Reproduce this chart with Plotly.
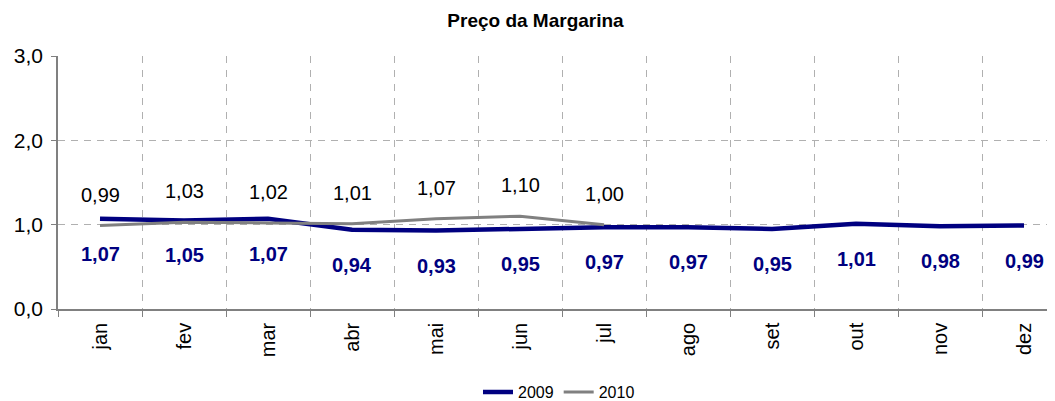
import plotly.graph_objects as go

months = ["jan", "fev", "mar", "abr", "mai", "jun", "jul", "ago", "set", "out", "nov", "dez"]
v2009 = [1.07, 1.05, 1.07, 0.94, 0.93, 0.95, 0.97, 0.97, 0.95, 1.01, 0.98, 0.99]
v2010 = [0.99, 1.03, 1.02, 1.01, 1.07, 1.10, 1.00]
y_ticks = [0, 1, 2, 3]

FONT = "Liberation Sans, Arial"

def fmt(v):
    return f"{v:.2f}".replace(".", ",")

fig = go.Figure()
fig.add_trace(go.Scatter(x=months, y=v2009, mode="lines", name="2009",
                         line=dict(color="#000080", width=4.5)))
fig.add_trace(go.Scatter(x=months[:len(v2010)], y=v2010, mode="lines", name="2010",
                         line=dict(color="#808080", width=3)))

ann = []
for m, v in zip(months, v2009):
    ann.append(dict(x=m, y=v, xref="x", yref="y", text=fmt(v), showarrow=False,
                    yshift=-35, font=dict(family=FONT, size=20, color="#000080", weight="bold")))
for m, v in zip(months, v2010):
    ann.append(dict(x=m, y=v, xref="x", yref="y", text=fmt(v), showarrow=False,
                    yshift=31, font=dict(family=FONT, size=20, color="#000000")))

fig.update_layout(
    width=1055, height=401,
    margin=dict(l=50, r=0, t=48, b=100),
    paper_bgcolor="white", plot_bgcolor="white",
    separators=",.",
    font=dict(family=FONT, color="black"),
    title=dict(text="<b>Preço da Margarina</b>", x=0.5, xanchor="center", y=0.97, yanchor="middle",
               font=dict(size=19, color="black"), automargin=False),
    annotations=ann,
    showlegend=True,
    legend=dict(orientation="h", x=0.4985, xanchor="center",
                yref="container", y=0.042, yanchor="middle",
                font=dict(size=16), tracegroupgap=0),
    xaxis=dict(type="category", categoryorder="array", categoryarray=months,
               range=[-0.5, 11.464], tickson="boundaries", automargin=False,
               showgrid=True, gridcolor="#b0b0b0", griddash="7px,7px", gridwidth=1,
               showline=True, linecolor="#808080", linewidth=1.5,
               ticks="outside", ticklen=6, tickcolor="#808080",
               ticklabelstandoff=4,
               tickangle=-90, tickfont=dict(size=20), fixedrange=True),
    yaxis=dict(range=[0, 3], tickvals=y_ticks, tickformat=".1f", automargin=False,
               showgrid=True, gridcolor="#b0b0b0", griddash="7px,6px", gridwidth=1,
               showline=True, linecolor="#808080", linewidth=1.5,
               ticks="outside", ticklen=5, tickcolor="#808080",
               ticklabelstandoff=4,
               tickfont=dict(size=21), zeroline=False),
)

fig.write_html("out.html")
